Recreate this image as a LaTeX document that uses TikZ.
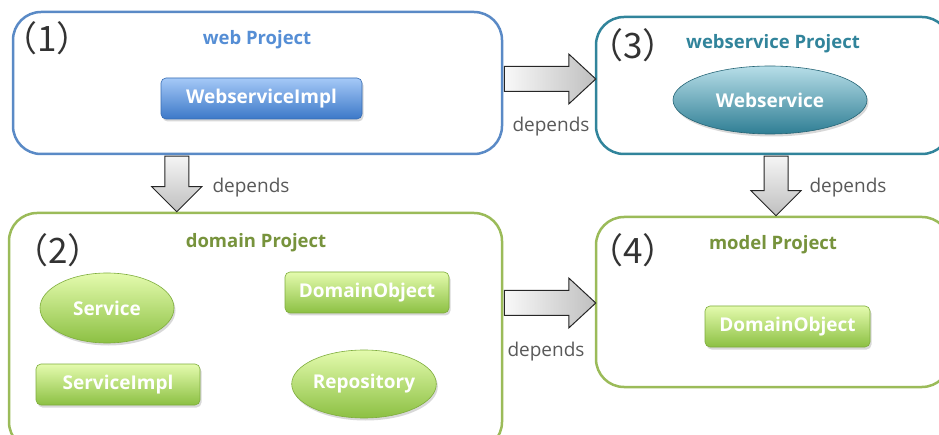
\documentclass[tikz,border=0pt]{standalone}
\usepackage{fontspec}
\setmainfont{Open Sans}
\newfontfamily\cjkfont{Noto Sans CJK JP}
\usetikzlibrary{calc,shapes.geometric,shadows}
\definecolor{blueB}{HTML}{5A8AC6}
\definecolor{blueT}{HTML}{558ED5}
\definecolor{tealB}{HTML}{31849B}
\definecolor{greenB}{HTML}{9BBB59}
\definecolor{greenT}{HTML}{77933C}
\definecolor{numC}{HTML}{333333}
\definecolor{depC}{HTML}{595959}
\definecolor{bluetop}{HTML}{A5C9F7}
\definecolor{bluebot}{HTML}{3C78C8}
\definecolor{tealtop}{HTML}{B7DEE8}
\definecolor{tealbot}{HTML}{2F7E94}
\definecolor{greentop}{HTML}{E4FBAE}
\definecolor{greenbot}{HTML}{8CC043}
\begin{document}
\begin{tikzpicture}[x=1pt,y=-1pt,
  proj/.style={draw, rounded corners=28pt, line width=2.5pt, fill=white, inner sep=0pt},
  projtitle/.style={font=\bfseries\fontsize{18.5}{20}\selectfont},
  num/.style={font=\cjkfont\fontsize{35}{37}\selectfont, text=numC, inner sep=0pt},
  dep/.style={font=\fontsize{19}{21}\selectfont, text=depC, inner sep=0pt},
  comp/.style={font=\bfseries\fontsize{19}{21}\selectfont, text=white, inner sep=0pt,
    drop shadow={opacity=0.3, shadow xshift=1.5pt, shadow yshift=-2.5pt}},
  bluebox/.style={comp, rectangle, rounded corners=5pt, draw=bluebot!90!black, line width=0.6pt,
    top color=bluetop, bottom color=bluebot},
  tealell/.style={comp, ellipse, draw=tealbot!80!black, line width=0.6pt,
    top color=tealtop, bottom color=tealbot},
  greenbox/.style={comp, rectangle, rounded corners=5pt, draw=greenbot!90!black, line width=0.6pt,
    top color=greentop, bottom color=greenbot},
  greenell/.style={comp, ellipse, draw=greenbot!90!black, line width=0.6pt,
    top color=greentop, bottom color=greenbot},
  hblock/.style={draw=black!85, line width=1pt, line join=miter, left color=gray!5, right color=gray!50,
    to path={($(\tikztostart)+(0,-12.5)$) -- ($(\tikztotarget)+(-27,-12.5)$) -- ($(\tikztotarget)+(-27,-25)$)
      -- (\tikztotarget) -- ($(\tikztotarget)+(-27,25)$) -- ($(\tikztotarget)+(-27,12.5)$)
      -- ($(\tikztostart)+(0,12.5)$) -- cycle}},
  vblock/.style={draw=black!85, line width=1pt, line join=miter, top color=gray!8, bottom color=gray!50,
    to path={($(\tikztostart)+(-12,0)$) -- ($(\tikztotarget)+(-12,-25)$) -- ($(\tikztotarget)+(-25,-25)$)
      -- (\tikztotarget) -- ($(\tikztotarget)+(25,-25)$) -- ($(\tikztotarget)+(12,-25)$)
      -- ($(\tikztostart)+(12,0)$) -- cycle}}
]
\useasboundingbox (0,0) rectangle (939,435);
\clip (0,0) rectangle (939,435);

% project boxes
\node[proj, draw=blueB, minimum width=489pt, minimum height=142pt] (b1) at (257.5,83) {};
\node[proj, draw=tealB, minimum width=354pt, minimum height=137pt] (b3) at (773,85.5) {};
\node[proj, draw=greenB, minimum width=493pt, minimum height=237pt] (b2) at (255.5,331.5) {};
\node[proj, draw=greenB, minimum width=354pt, minimum height=170pt] (b4) at (773,302) {};

% numbers
\node[num] (n1) at (47,38) {（1）};
\node[num] (n2) at (58,250) {（2）};
\node[num] (n3) at (633,45) {（3）};
\node[num] (n4) at (633,250) {（4）};

% titles
\node[projtitle, text=blueT] (t1) at (257,40) {web Project};
\node[projtitle, text=tealB] (t3) at (773,44) {webservice Project};
\node[projtitle, text=greenT] (t2) at (256,243) {domain Project};
\node[projtitle, text=greenT] (t4) at (773,245) {model Project};

% components
\node[bluebox, minimum width=201pt, minimum height=41pt] (wsi) at (261.5,98.5) {WebserviceImpl};
\node[tealell, minimum width=194pt, minimum height=68pt] (ws) at (770,100) {Webservice};
\node[greenell, minimum width=134pt, minimum height=70pt] (svc) at (107,308) {Service};
\node[greenbox, minimum width=164pt, minimum height=41pt] (do2) at (367,292.5) {DomainObject};
\node[greenbox, minimum width=164pt, minimum height=41pt] (svci) at (118,384.5) {ServiceImpl};
\node[greenell, minimum width=134pt, minimum height=68pt] (repo) at (364,384) {Repository};
\node[greenbox, minimum width=165pt, minimum height=41pt] (do4) at (787.5,326.5) {DomainObject};

% dependency arrows
\coordinate (t13) at ($(b3.west)+(1,-6.5)$);
\coordinate (t24) at ($(b4.west)+(1,1)$);
\coordinate (t12) at ($(b2.north west)+(169,0)$);
\coordinate (t34) at ($(b4.north)+(3,0)$);
\path[hblock] ($(b1.east |- t13)+(1,0)$) to (t13);
\path[hblock] ($(b2.east |- t24)+(1,0)$) to (t24);
\path[vblock] ($(t12 |- b1.south)+(0,1)$) to (t12);
\path[vblock] ($(t34 |- b3.south)+(0,1)$) to (t34);

% labels
\node[dep] (d12) at (251,188) {depends};
\node[dep] (d13) at (551,127) {depends};
\node[dep] (d34) at (848,188) {depends};
\node[dep] (d24) at (546,352) {depends};
\end{tikzpicture}
\end{document}
